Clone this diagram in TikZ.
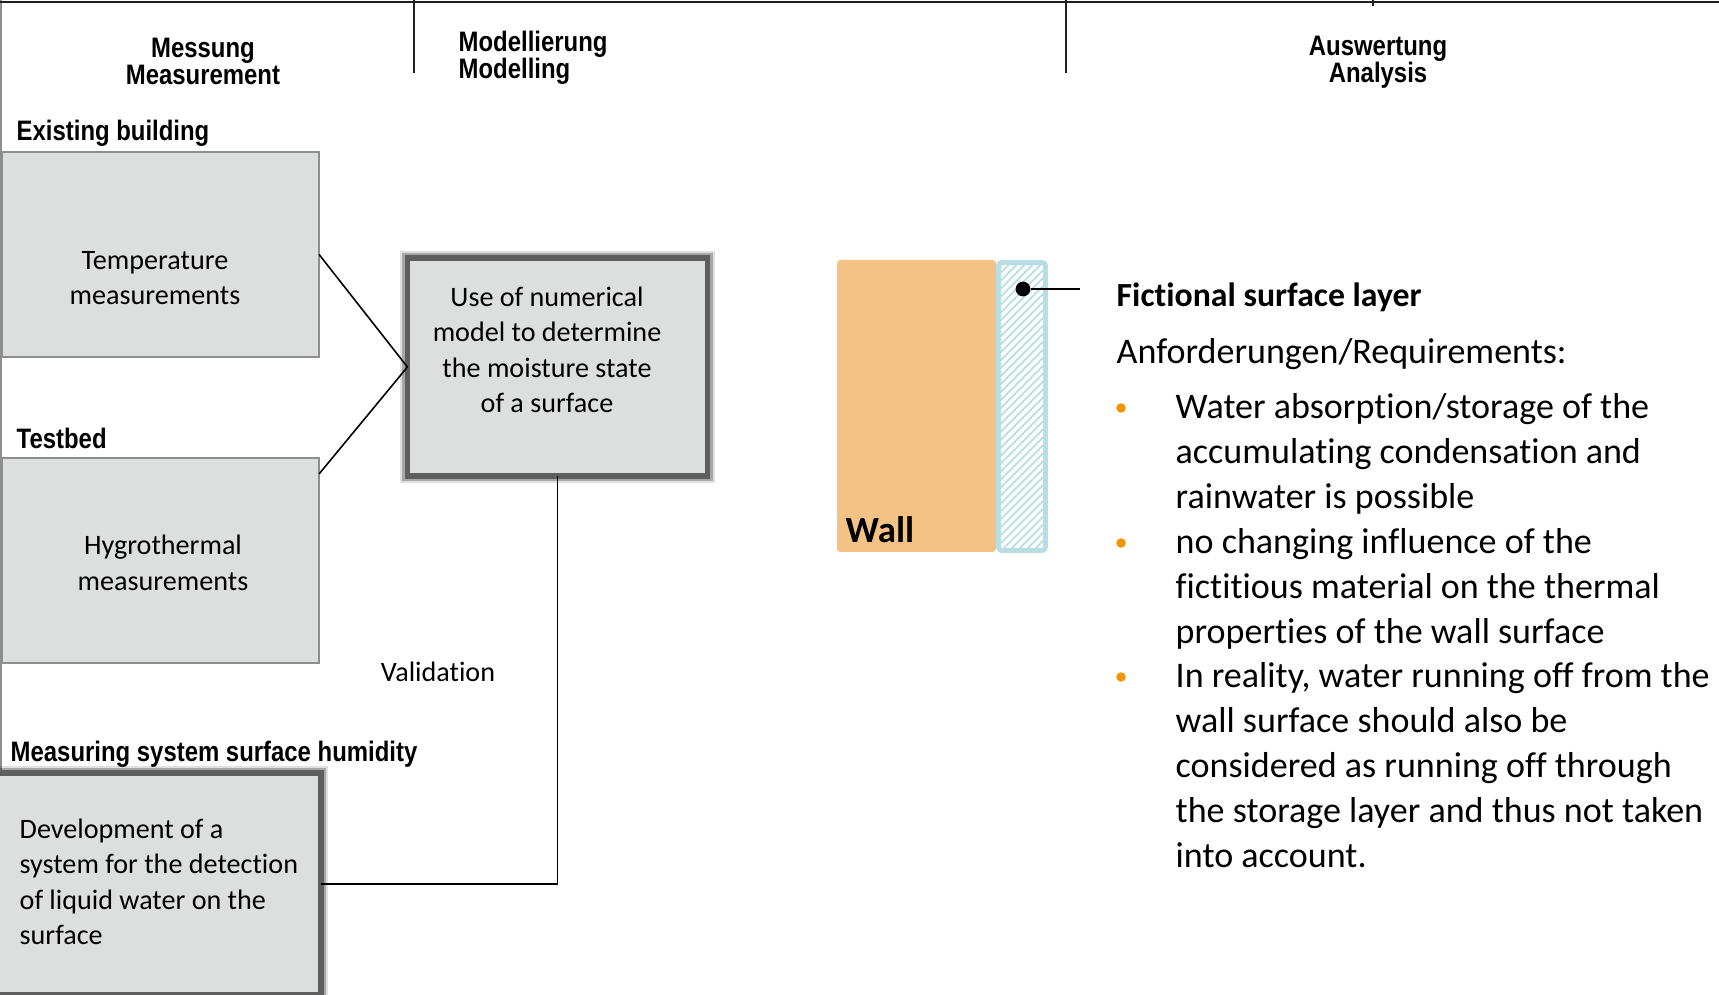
\documentclass[tikz,border=0pt]{standalone}
\usepackage{fontspec}
\setmainfont{Carlito}[Ligatures=NoCommon]
\newfontfamily\hdfont[FakeStretch=0.85]{Liberation Sans}
\usetikzlibrary{positioning, calc, patterns.meta}
\definecolor{msGrey}{HTML}{DDDFDF}
\definecolor{msGreyLine}{HTML}{8E8E8E}
\definecolor{msShadow}{HTML}{5E5E5E}
\definecolor{msWall}{HTML}{F5C285}
\definecolor{msLayer}{HTML}{B7DEE3}
\definecolor{msOrange}{HTML}{F29400}
\definecolor{msRule}{HTML}{1E1E1E}
\tikzset{
  msbox/.style={rectangle, draw=msGreyLine, line width=0.45pt, fill=msGrey,
    inner sep=0pt, outer sep=0pt},
  msboxShadow/.style={rectangle, draw=msShadow, line width=1.5pt, fill=msGrey,
    inner sep=0pt, outer sep=0pt,
    preaction={draw=black, draw opacity=0.12, line width=4.2pt},
    preaction={draw=black, draw opacity=0.25, line width=3pt}},
  mstext/.style={font=\fontsize{8}{10.1}\selectfont, align=center, inner sep=0pt},
  mshead/.style={font=\hdfont\bfseries\fontsize{8}{7.8}\selectfont, align=center, inner sep=0pt},
  mslabel/.style={font=\hdfont\bfseries\fontsize{8}{8}\selectfont, inner sep=0pt, anchor=west},
  msline/.style={line width=0.45pt, black},
  msbullet/.style={circle, fill=msOrange, minimum size=2.7pt, inner sep=0pt},
  msitem/.style={font=\fontsize{10.25}{12.8}\selectfont, align=left, inner sep=0pt, anchor=north west}
}

\begin{document}
\begin{tikzpicture}[x=0.01cm, y=-0.01cm]
  \useasboundingbox (0,0) rectangle (1719,995);
  \fill[white] (0,0) rectangle (1719,995);

  % header rules
  \draw[msGreyLine, line width=0.45pt] (1,0) -- (1,995);
  \draw[msRule, line width=0.7pt] (0,2) -- (1719,2);
  \draw[msRule, line width=0.6pt] (414,0) -- (414,73);
  \draw[msRule, line width=0.6pt] (1066,0) -- (1066,73);
  \draw[msRule, line width=0.6pt] (1373,0) -- (1373,6);

  \node[mshead] (hMess) at (203,61.5) {Messung\\Measurement};
  \node[mshead, align=left, anchor=west] (hMod) at (458,58) {Modellierung\\Modelling};
  \node[mshead] (hAna) at (1378,62.5) {Auswertung\\Analysis};

  % measurement column
  \node[mslabel] (lExist) at (16,133) {Existing building};
  \node[mslabel] (lTest) at (16,438) {Testbed};
  \node[mslabel] (lSys) at (10,754) {Measuring system surface humidity};

  \node[msbox, minimum width=3.17cm, minimum height=2.05cm] (temp) at (160.5,254.5) {};
  \node[msbox, minimum width=3.17cm, minimum height=2.05cm] (hygro) at (160.5,560.5) {};
  \node[msboxShadow, minimum width=3.0cm, minimum height=2.18cm] (model) at (557.5,367) {};
  \node[msboxShadow, minimum width=3.26cm, minimum height=2.22cm] (dev) at (158,884) {};

  \node[mstext] (tTemp) at (155,278) {Temperature\\measurements};
  \node[mstext] (tHygro) at (163,563) {Hygrothermal\\measurements};
  \node[mstext] (tModel) at (547,350) {Use of numerical\\model to determine\\the moisture state\\of a surface};
  \node[mstext, align=left, anchor=west] (tDev) at (19,882) {Development of a\\system for the detection\\of liquid water on the\\surface};
  \node[mstext] (tVal) at (438,672) {Validation};

  \draw[msline] (temp.east) -- (model.west);
  \draw[msline] ($(hygro.north east)+(0,16)$) -- (model.west);
  \draw[msline] (model.south) |- (dev.east);

  % wall with fictional layer
  \fill[msWall, rounded corners=1pt] (837,260) rectangle (996,552);
  \draw[msLayer, line width=1.4pt, rounded corners=1pt,
    pattern={Lines[angle=45, distance=1.6pt, line width=0.5pt]}, pattern color=msLayer]
    (998.5,262.5) rectangle (1045.5,550.5);
  \node[font=\bfseries\fontsize{10.5}{12}\selectfont, anchor=base west, inner sep=0pt] (tWall) at (845,543) {Wall};
  \node[circle, fill=black, minimum size=4.2pt, inner sep=0pt] (dot) at (1023,289) {};
  \coordinate (lead) at (1080,289);
  \draw[line width=0.6pt] (dot) -- (lead);

  % requirements
  \node[font=\bfseries\fontsize{9.6}{12}\selectfont, anchor=base west, inner sep=0pt] (fsl) at (1116,307) {Fictional surface layer};
  \node[font=\fontsize{10.25}{12.8}\selectfont, anchor=base west, inner sep=0pt] (req) at (1116,364) {Anforderungen/Requirements:};

  \node[msbullet] (d1) at (1121,408) {};
  \node[msbullet] (d2) at (1121,543) {};
  \node[msbullet] (d3) at (1121,677) {};
  \node[msitem] (b1) at (1175,386) {\strut Water absorption/storage of the\\accumulating condensation and\\rainwater is possible};
  \node[msitem] (b2) at (1175,520.8) {\strut no changing influence of the\\fictitious material on the thermal\\properties of the wall surface};
  \node[msitem] (b3) at (1175,655.7) {\strut In reality, water running off from the\\wall surface should also be\\considered as running off through\\the storage layer and thus not taken\\into account.};
\end{tikzpicture}
\end{document}
